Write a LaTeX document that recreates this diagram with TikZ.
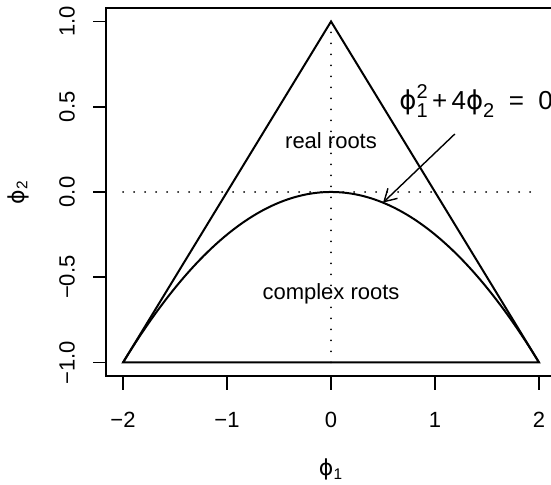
\documentclass[tikz,border=0pt]{standalone}
\usepackage{fontspec}
\setmainfont{Liberation Sans}
\newfontfamily\greekfont{DejaVu Sans}
\usetikzlibrary{arrows.meta}
\newcommand{\ph}{{\greekfont ϕ}}
\tikzset{
  curve/.style={line width=1pt},
  guide/.style={line width=0.9pt, dash pattern=on 0.1pt off 5.4pt, line cap=round},
  ticklab/.style={inner sep=0pt}
}
\begin{document}
\begin{tikzpicture}[x=52pt, y=85.25pt, font=\fontsize{11}{13}\selectfont,
    >={Straight Barb[length=6pt,angle'=60]}]
    \useasboundingbox (-3.183,-1.713) rectangle (2.115,1.126);
    \clip (-3.183,-1.713) rectangle (2.115,1.126);

    % Caixa e eixos
    \draw[line width=0.9pt] (2.4,1.08) -- (-2.16,1.08) -- (-2.16,-1.08) -- (2.4,-1.08);
    \foreach \x/\lab in {-2/−2,-1/−1,0/0,1/1,2/2} {
      \draw[line width=0.9pt] (\x,-1.08) -- ++(0,-7pt);
      \node[ticklab] (tx\x) at (\x,-1.337) {\lab};
    }
    \foreach \y/\lab in {-1/−1.0,-0.5/−0.5,0/0.0,0.5/0.5,1/1.0} {
      \draw[line width=0.9pt] (-2.16,\y) -- ++(-6.5pt,0);
      \node[ticklab, rotate=90] (ty\y) at (-2.538,\y) {\lab};
    }

    % Rótulos dos eixos
    \node (xlab) at (0,-1.63) {\ph\textsubscript{1}};
    \node[rotate=90] (ylab) at (-3.01,0) {\ph\textsubscript{2}};

    % Linhas pontilhadas
    \draw[guide] (-2,0) -- (2,0);
    \draw[guide] (0,-1) -- (0,1);

    % Triângulo e parábola
    \draw[curve, line join=miter] (-2,-1) -- (0,1) -- (2,-1) -- cycle;
    \draw[curve, domain=-2:2, samples=120] plot (\x,{-\x*\x/4});

    % Regiões
    \node[fill=none] (real) at (0,0.3) {real roots};
    \node (complex) at (0,-0.6) {complex roots};

    % Equação e seta
    \node[anchor=base west, inner sep=0pt, font=\fontsize{13}{15}\selectfont] (eq) at (0.654,0.481)
      {\ph\rlap{\raisebox{0.85ex}{\fontsize{10}{12}\selectfont 2}}\raisebox{-0.55ex}{\fontsize{10}{12}\selectfont 1}\,+\,4\ph\raisebox{-0.55ex}{\fontsize{10}{12}\selectfont 2}\ \ =\ \ 0};
    \coordinate (eqtail) at (1.19,0.34);
    \coordinate (eqtip) at (0.5,-0.0625);
    \draw[->, line width=0.7pt] (eqtail) -- (eqtip);
\end{tikzpicture}
\end{document}
